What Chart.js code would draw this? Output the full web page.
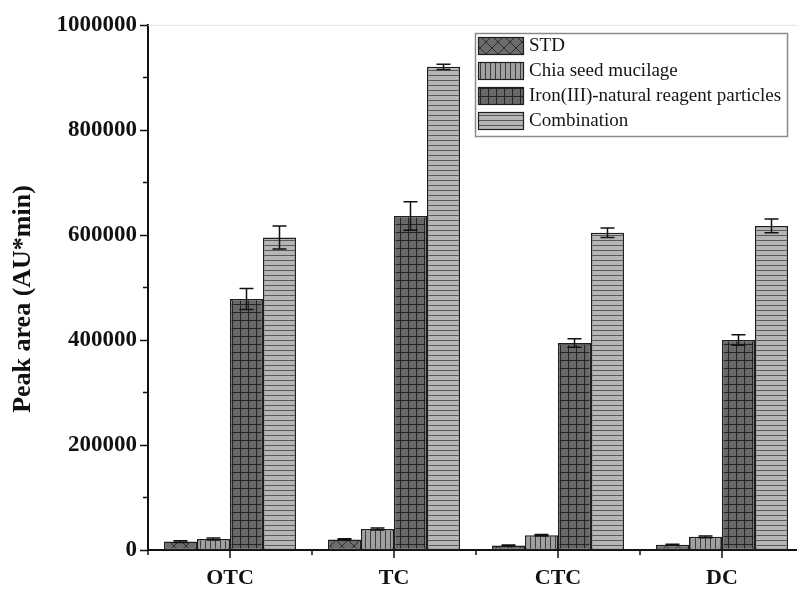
<!DOCTYPE html>
<html>
<head>
<meta charset="utf-8">
<script src="https://cdn.jsdelivr.net/npm/chart.js@4.4.0/dist/chart.umd.min.js"></script>
<style>
  html, body { margin: 0; padding: 0; background: #fff; overflow: hidden; }
  #wrap { width: 804px; height: 589px; }
</style>
</head>
<body>
<div id="wrap"><canvas id="peakChart" width="804" height="589"></canvas></div>
<script>
// Peak areas per antibiotic and extraction condition
const categories = ['OTC', 'TC', 'CTC', 'DC'];
const seriesNames = ['STD', 'Chia seed mucilage', 'Iron(III)-natural reagent particles', 'Combination'];

const stdArea = [16000, 20000, 8500, 10000];
const chiaArea = [21000, 40000, 28000, 25000];
const ironArea = [478000, 636000, 394000, 400000];
const comboArea = [595000, 920000, 604000, 617000];

// standard deviations (error bars)
const stdErr = [1500, 1500, 1000, 1000];
const chiaErr = [2000, 2000, 1500, 1500];
const ironErr = [20000, 27000, 8000, 10000];
const comboErr = [22000, 5000, 9000, 13000];

const yTicks = [0, 200000, 400000, 600000, 800000, 1000000];
const yTitle = 'Peak area (AU*min)';

const SERIF = '"Liberation Serif", "Times New Roman", serif';

function makePattern(kind) {
    const tile = document.createElement('canvas');
    const c = tile.getContext('2d');
    let w = 8, h = 8;
    if (kind === 'cross') { w = 12; h = 12; }
    if (kind === 'vert') { w = 5; h = 5; }
    if (kind === 'horiz') { w = 5; h = 5; }
    tile.width = w;
    tile.height = h;
    c.lineWidth = 1;
    if (kind === 'cross') {
        c.fillStyle = '#6c6c6c';
        c.fillRect(0, 0, w, h);
        c.strokeStyle = '#2e2e2e';
        c.beginPath();
        c.moveTo(0, 0); c.lineTo(w, h);
        c.moveTo(w, 0); c.lineTo(0, h);
        c.stroke();
    } else if (kind === 'vert') {
        c.fillStyle = '#a0a0a0';
        c.fillRect(0, 0, w, h);
        c.fillStyle = '#3c3c3c';
        c.fillRect(0, 0, 1, h);
    } else if (kind === 'grid') {
        c.fillStyle = '#686868';
        c.fillRect(0, 0, w, h);
        c.fillStyle = '#242424';
        c.fillRect(0, 0, 1, h);
        c.fillRect(0, 0, w, 1);
    } else {
        c.fillStyle = '#b6b6b6';
        c.fillRect(0, 0, w, h);
        c.fillStyle = '#595959';
        c.fillRect(0, 0, w, 1);
    }
    return c.createPattern(tile, 'repeat');
}

const fills = [makePattern('cross'), makePattern('vert'), makePattern('grid'), makePattern('horiz')];
const values = [stdArea, chiaArea, ironArea, comboArea];
const errors = [stdErr, chiaErr, ironErr, comboErr];

const datasets = seriesNames.map((name, i) => ({
    label: name,
    data: values[i],
    errors: errors[i],
    backgroundColor: fills[i],
    borderColor: '#1e1e1e',
    borderWidth: 1.5,
    borderSkipped: false,
    categoryPercentage: 0.805,
    barPercentage: 1.0
}));

// error bars with caps on both ends
const errorBars = {
    id: 'errorBars',
    afterDatasetsDraw(chart) {
        const ctx = chart.ctx;
        const y = chart.scales.y;
        ctx.save();
        ctx.strokeStyle = '#111';
        ctx.lineWidth = 1.5;
        chart.data.datasets.forEach((ds, di) => {
            const meta = chart.getDatasetMeta(di);
            meta.data.forEach((bar, j) => {
                const v = ds.data[j];
                const e = ds.errors[j];
                const top = y.getPixelForValue(v + e);
                const bot = y.getPixelForValue(v - e);
                const half = 7;
                ctx.beginPath();
                ctx.moveTo(bar.x, top); ctx.lineTo(bar.x, bot);
                ctx.moveTo(bar.x - half, top); ctx.lineTo(bar.x + half, top);
                ctx.moveTo(bar.x - half, bot); ctx.lineTo(bar.x + half, bot);
                ctx.stroke();
            });
        });
        ctx.restore();
    }
};

// tick marks, faint top frame, axis title and the boxed legend
const decorations = {
    id: 'decorations',
    afterDraw(chart) {
        const ctx = chart.ctx;
        const area = chart.chartArea;
        const x = chart.scales.x;
        const y = chart.scales.y;
        ctx.save();

        ctx.strokeStyle = '#e2e2e2';
        ctx.lineWidth = 1;
        ctx.beginPath();
        ctx.moveTo(area.left, area.top + 0.5);
        ctx.lineTo(area.right, area.top + 0.5);
        ctx.stroke();

        ctx.strokeStyle = '#111';
        ctx.lineWidth = 1.5;
        ctx.beginPath();
        for (let v = 0; v <= 1000000; v += 100000) {
            const py = Math.round(y.getPixelForValue(v)) + 0.5;
            const len = (v % 200000 === 0) ? 8 : 5;
            ctx.moveTo(area.left - len, py);
            ctx.lineTo(area.left, py);
        }
        const step = x.getPixelForValue(1) - x.getPixelForValue(0);
        categories.forEach((c, i) => {
            const cx = x.getPixelForValue(i);
            ctx.moveTo(cx, area.bottom);
            ctx.lineTo(cx, area.bottom + 8);
            const bx = cx - step / 2;
            ctx.moveTo(bx, area.bottom);
            ctx.lineTo(bx, area.bottom + 5);
        });
        ctx.stroke();

        // y axis title
        ctx.save();
        ctx.translate(23, 299);
        ctx.rotate(-Math.PI / 2);
        ctx.font = 'bold 26px ' + SERIF;
        ctx.fillStyle = '#111';
        ctx.textAlign = 'center';
        ctx.textBaseline = 'middle';
        ctx.fillText(yTitle, 0, 0);
        ctx.restore();

        // legend
        const lx = 475.5, ly = 33.5, lw = 312, lh = 103;
        ctx.fillStyle = '#fff';
        ctx.fillRect(lx, ly, lw, lh);
        ctx.strokeStyle = '#8a8a8a';
        ctx.lineWidth = 1.5;
        ctx.strokeRect(lx, ly, lw, lh);
        ctx.font = '19px ' + SERIF;
        ctx.textBaseline = 'middle';
        ctx.textAlign = 'left';
        chart.data.datasets.forEach((ds, i) => {
            const sy = 37 + i * 25;
            ctx.fillStyle = ds.backgroundColor;
            ctx.fillRect(478, sy, 45, 17);
            ctx.strokeStyle = '#1e1e1e';
            ctx.lineWidth = 1.2;
            ctx.strokeRect(478.5, sy + 0.5, 45, 17);
            ctx.fillStyle = '#151515';
            ctx.fillText(ds.label, 529, sy + 9);
        });
        ctx.restore();
    }
};

new Chart(document.getElementById('peakChart').getContext('2d'), {
    type: 'bar',
    data: {
        labels: categories,
        datasets: datasets
    },
    options: {
        responsive: false,
        animation: false,
        devicePixelRatio: 1,
        layout: { padding: { top: 22, left: 0, right: 0, bottom: 0 } },
        plugins: {
            legend: { display: false },
            tooltip: { enabled: false }
        },
        scales: {
            x: {
                offset: true,
                grid: { display: false, drawTicks: false },
                border: { color: '#111', width: 2 },
                ticks: {
                    padding: 15,
                    color: '#111',
                    font: { family: SERIF, size: 22, weight: 'bold' }
                },
                afterFit(scale) { scale.height = 39; }
            },
            y: {
                min: 0,
                max: 1000000,
                grid: { display: false, drawTicks: false },
                border: { color: '#111', width: 2 },
                afterBuildTicks(scale) {
                    scale.ticks = yTicks.map(v => ({ value: v }));
                },
                ticks: {
                    padding: 11,
                    color: '#111',
                    font: { family: SERIF, size: 23, weight: 'bold' },
                    callback: v => String(v)
                },
                afterFit(scale) { scale.width = 148; }
            }
        }
    },
    plugins: [errorBars, decorations]
});
</script>
</body>
</html>
